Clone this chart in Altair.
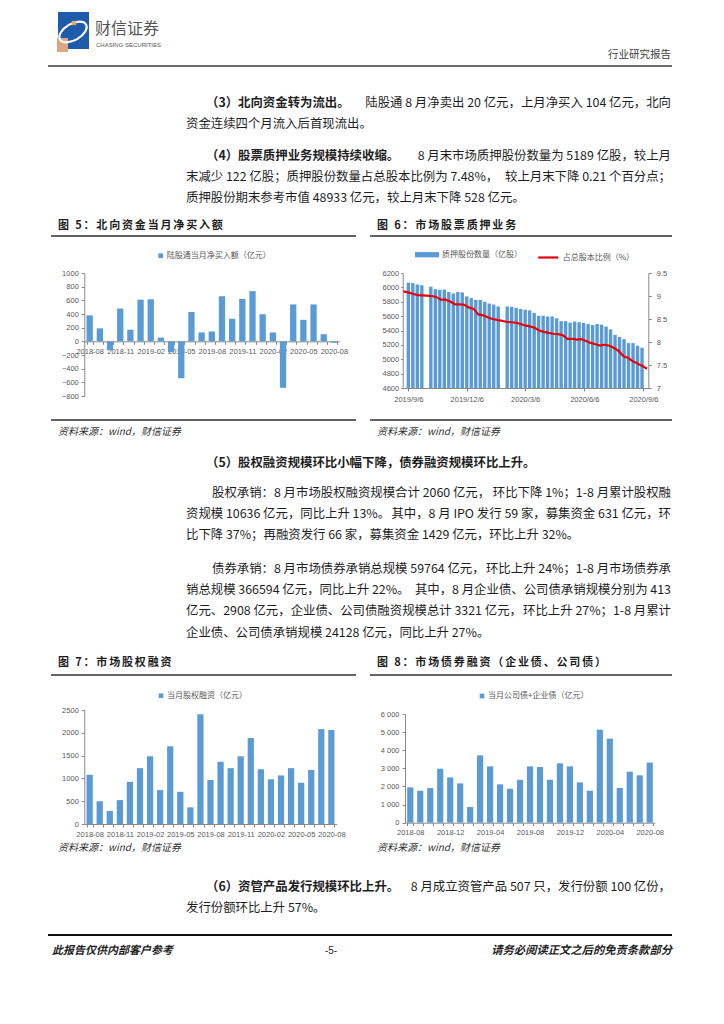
import json
import altair as alt
import pandas as pd

# ---------------- data ----------------
months = ["2018-08", "2018-09", "2018-10", "2018-11", "2018-12",
          "2019-01", "2019-02", "2019-03", "2019-04", "2019-05", "2019-06",
          "2019-07", "2019-08", "2019-09", "2019-10", "2019-11", "2019-12",
          "2020-01", "2020-02", "2020-03", "2020-04", "2020-05", "2020-06",
          "2020-07", "2020-08"]
north_net = [380, 190, -130, 480, 170, 610, 615, 55, -160, -540, 430, 130, 145,
             660, 330, 620, 735, 395, 130, -680, 540, 315, 540, 104, -20]
equity = [1080, 500, 285, 525, 925, 1225, 1485, 745, 1705, 705, 365, 2405, 965,
          1365, 1225, 1485, 1885, 1200, 980, 1065, 1225, 905, 1185, 2081, 2060]
bonds = [1950, 1765, 1910, 2980, 2500, 2170, 865, 3715, 3110, 2115, 1875, 2370,
         3110, 3075, 2370, 3275, 3110, 2225, 1765, 5135, 4640, 1915, 2815, 2615, 3321]

weeks = ["2019-09-06", "2019-09-13", "2019-09-20", "2019-09-27", "2019-10-11",
         "2019-10-18", "2019-10-25", "2019-11-01", "2019-11-08", "2019-11-15",
         "2019-11-22", "2019-11-29", "2019-12-06", "2019-12-13", "2019-12-20",
         "2019-12-27", "2020-01-03", "2020-01-10", "2020-01-17", "2020-01-24",
         "2020-02-07", "2020-02-14", "2020-02-21", "2020-02-28", "2020-03-06",
         "2020-03-13", "2020-03-20", "2020-03-27", "2020-04-03", "2020-04-10",
         "2020-04-17", "2020-04-24", "2020-05-01", "2020-05-08", "2020-05-15",
         "2020-05-22", "2020-05-29", "2020-06-05", "2020-06-12", "2020-06-19",
         "2020-06-26", "2020-07-03", "2020-07-10", "2020-07-17", "2020-07-24",
         "2020-07-31", "2020-08-07", "2020-08-14", "2020-08-21", "2020-08-28",
         "2020-09-04"]
pledged = [6065, 6060, 6040, 6030, 6010, 5975, 5965, 5970, 5935, 5915, 5935, 5930,
           5875, 5850, 5825, 5825, 5800, 5775, 5760, 5735, 5735, 5730, 5715, 5700,
           5690, 5680, 5645, 5605, 5605, 5595, 5595, 5570, 5530, 5530, 5510, 5525,
           5515, 5505, 5490, 5475, 5490, 5480, 5455, 5415, 5340, 5311, 5280, 5225,
           5225, 5189, 5160]
ratio = [9.10, 9.08, 9.05, 9.02, 9.01, 9.00, 8.98, 8.92, 8.92, 8.88, 8.82, 8.82,
         8.81, 8.75, 8.72, 8.60, 8.58, 8.54, 8.50, 8.48, 8.44, 8.43, 8.42, 8.39,
         8.36, 8.34, 8.31, 8.25, 8.22, 8.20, 8.18, 8.17, 8.15, 8.07, 8.07, 8.05,
         8.06, 8.02, 7.98, 7.95, 7.92, 7.94, 7.92, 7.87, 7.80, 7.69, 7.65, 7.58,
         7.53, 7.48, 7.42]

labels_q = ["2018-08", "2018-11", "2019-02", "2019-05", "2019-08", "2019-11",
            "2020-02", "2020-05", "2020-08"]
labels_4m = ["2018-08", "2018-12", "2019-04", "2019-08", "2019-12", "2020-04", "2020-08"]
date_ticks = [(2019, 9, 6), (2019, 12, 6), (2020, 3, 6), (2020, 6, 6), (2020, 9, 6)]
yt5 = list(range(-800, 1001, 200))
yt6l = list(range(4600, 6201, 200))
yt6r = [7, 7.5, 8, 8.5, 9, 9.5]
yt7 = list(range(0, 2501, 500))
yt8 = list(range(0, 6001, 1000))

leg5 = "陆股通当月净买入额（亿元）"
leg6a = "质押股份数量（亿股）"
leg6b = "占总股本比例（%）"
leg7 = "当月股权融资（亿元）"
leg8 = "当月公司债+企业债（亿元）"

# ---------------- style ----------------
CN = "Noto Sans CJK SC"
AXF = "Liberation Sans"
BLUE = "#5B9BD5"
RED = "#E8000B"
GRAY = "#595959"
AXC = "#898989"
TXT = "#1e1e1e"
BODY = 12.4

# ---------------- page canvases ----------------
def xs():
    return alt.X("x:Q", scale=alt.Scale(domain=[8, 716], nice=False, zero=False), axis=None)

def ys(y0, y1):
    return alt.Y("y:Q", scale=alt.Scale(domain=[y0, y1], reverse=True, nice=False, zero=False), axis=None)

def texts(rows, y0, y1, **props):
    df = pd.DataFrame(rows, columns=["x", "y", "t"])
    base = dict(baseline="middle", font=CN, fontSize=BODY, color=TXT, align="left")
    base.update(props)
    return alt.Chart(df).mark_text(**base).encode(x=xs(), y=ys(y0, y1), text="t:N")

def rules(rows, y0, y1, **props):
    df = pd.DataFrame(rows, columns=["x", "x2", "y"])
    base = dict(color="#303030", strokeWidth=1.3)
    base.update(props)
    return alt.Chart(df).mark_rule(**base).encode(x=xs(), x2="x2:Q", y=ys(y0, y1))

def spaced(s):
    return "\u2006".join(list(s))

L, IND, IND2, R = 186, 206, 212, 671
LH = 21.2          # line height inside a paragraph
TS = 11            # figure title size
TX1, TX2 = 58, 377

# Row A: header + paragraphs (3), (4) + figure titles 5/6
A0, A1 = 8, 273
logo_df = pd.DataFrame({"x": [58, 57], "x2": [89, 68], "y": [12, 38], "y2": [49, 52],
                        "c": ["#1E5BAA", "#D9A883"]})
logo = alt.Chart(logo_df).mark_rect().encode(
    x=xs(), x2="x2:Q", y=ys(A0, A1), y2="y2:Q", color=alt.Color("c:N", scale=None, legend=None))
swoosh = alt.Chart(pd.DataFrame({"x": [73], "y": [32]})).mark_point(
    shape="M-1,0 A1,0.55 0 1,1 1,0 A1,0.55 0 1,1 -1,0", size=900, angle=330,
    stroke="white", strokeWidth=2.2, filled=False, opacity=1).encode(x=xs(), y=ys(A0, A1))
star = alt.Chart(pd.DataFrame({"x": [74], "y": [23]})).mark_point(
    shape="cross", size=28, angle=45, filled=True, color="#F2A65A", opacity=1).encode(x=xs(), y=ys(A0, A1))

p3, p4 = 102.5, 156
rowA = alt.layer(
    logo, swoosh, star,
    texts([(95, 29, "财信证券")], A0, A1, fontSize=16, color="#555555"),
    texts([(96, 45, "CHASING SECURITIES")], A0, A1, font=AXF, fontSize=6, color="#555555"),
    texts([(R, 55, "行业研究报告")], A0, A1, fontSize=10.5, color="#404040", align="right"),
    rules([(48, 672, 66)], A0, A1, strokeWidth=1.6, color="#3a3a3a"),
    texts([(IND, p3, "（3）北向资金转为流出。"),
           (IND, p4, "（4）股票质押业务规模持续收缩。")], A0, A1, fontWeight="bold"),
    texts([(R, p3, "陆股通 8 月净卖出 20 亿元，上月净买入 104 亿元，北向"),
           (R, p4, "8 月末市场质押股份数量为 5189 亿股，较上月"),
           (R, p4 + LH, "较上月末下降 0.21 个百分点；")], A0, A1, align="right"),
    texts([(L, p3 + LH, "资金连续四个月流入后首现流出。"),
           (L, p4 + LH, "末减少 122 亿股；质押股份数量占总股本比例为 7.48%，"),
           (L, p4 + 2 * LH, "质押股份期末参考市值 48933 亿元，较上月末下降 528 亿元。")], A0, A1),
    texts([(TX1, 225.7, spaced("图 5：北向资金当月净买入额")),
           (TX2, 225.7, spaced("图 6：市场股票质押业务"))], A0, A1, fontWeight="bold", fontSize=TS),
    rules([(51, 356, 236), (370, 672, 236)], A0, A1),
).properties(width=708, height=A1 - A0)

# Row C: sources 5/6, paragraph (5), figure titles 7/8
C0, C1 = 396, 710
p5, pe, pb = 463, 493, 569
rowC = alt.layer(
    rules([(51, 356, 420), (370, 672, 420)], C0, C1),
    texts([(TX1, 432, "资料来源：wind，财信证券"), (TX2, 432, "资料来源：wind，财信证券")],
          C0, C1, fontSize=10, fontStyle="italic", color="#333333"),
    texts([(IND, p5, "（5）股权融资规模环比小幅下降，债券融资规模环比上升。")], C0, C1, fontWeight="bold"),
    texts([(IND2, pe, "股权承销：8 月市场股权融资规模合计 2060 亿元，"),
           (L, pe + LH, "资规模 10636 亿元，同比上升 13%。"),
           (L, pe + 2 * LH, "比下降 37%；再融资发行 66 家，募集资金 1429 亿元，环比上升 32%。"),
           (IND2, pb, "债券承销：8 月市场债券承销总规模 59764 亿元，"),
           (L, pb + LH, "销总规模 366594 亿元，同比上升 22%。"),
           (L, pb + 2 * LH, "亿元、2908 亿元，企业债、公司债融资规模总计 3321 亿元，"),
           (L, pb + 3 * LH, "企业债、公司债承销规模 24128 亿元，同比上升 27%。")], C0, C1),
    texts([(R, pe, "环比下降 1%；1-8 月累计股权融"),
           (R, pe + LH, "其中，8 月 IPO 发行 59 家，募集资金 631 亿元，环"),
           (R, pb, "环比上升 24%；1-8 月市场债券承"),
           (R, pb + LH, "其中，8 月企业债、公司债承销规模分别为 413"),
           (R, pb + 2 * LH, "环比上升 27%；1-8 月累计")], C0, C1, align="right"),
    texts([(TX1, 663, spaced("图 7：市场股权融资")),
           (TX2, 663, spaced("图 8：市场债券融资（企业债、公司债）"))], C0, C1,
          fontWeight="bold", fontSize=TS),
    rules([(51, 356, 675), (370, 672, 675)], C0, C1),
).properties(width=708, height=C1 - C0)

# Row E: sources 7/8, paragraph (6), footer
E0, E1 = 824, 1016
p6 = 887
rowE = alt.layer(
    texts([(TX1, 848, "资料来源：wind，财信证券"), (TX2, 848, "资料来源：wind，财信证券")],
          E0, E1, fontSize=10, fontStyle="italic", color="#333333"),
    texts([(IND, p6, "（6）资管产品发行规模环比上升。")], E0, E1, fontWeight="bold"),
    texts([(R, p6, "8 月成立资管产品 507 只，发行份额 100 亿份，")], E0, E1, align="right"),
    texts([(L, p6 + LH, "发行份额环比上升 57%。")], E0, E1),
    rules([(48, 672, 935)], E0, E1, strokeWidth=1.8, color="#111111"),
    texts([(52, 951, "此报告仅供内部客户参考")], E0, E1, fontWeight="bold", fontSize=11, fontStyle="italic"),
    texts([(331, 951, "-5-")], E0, E1, fontSize=10, align="center", font=AXF),
    texts([(672, 951, "请务必阅读正文之后的免责条款部分")], E0, E1, fontWeight="bold", fontSize=11.3,
          fontStyle="italic", align="right"),
).properties(width=708, height=E1 - E0)

# ---------------- charts (each pair shares one view; scale ranges place them) ----------------
def label_expr(keep):
    return "indexof(" + json.dumps(keep) + ", datum.value) >= 0 ? datum.value : ''"

AX = dict(labelFont=AXF, labelFontSize=7.5, labelColor=GRAY, domainColor=AXC, tickColor=AXC,
          grid=False, domainWidth=1, tickWidth=1)

def legend(x, y, **kw):
    base = dict(orient="none", legendX=x, legendY=y, title=None, symbolType="square",
                symbolSize=22, symbolStrokeWidth=0, labelFont=CN, labelFontSize=8,
                labelColor=GRAY, padding=0, labelOffset=2)
    base.update(kw)
    return alt.Legend(**base)

def monthly_bar(values, series, keep, yticks, ydom, xr, yr, xoff, yoff, leg_xy, yfmt=None):
    df = pd.DataFrame({"month": months, "v": values, "s": series})
    yaxis = dict(AX, values=yticks, tickSize=3, labelPadding=3, orient="left", offset=yoff)
    if yfmt:
        yaxis["labelExpr"] = yfmt
    else:
        yaxis["format"] = "d"
    return alt.Chart(df).mark_bar().encode(
        x=alt.X("month:O", sort=months, title=None,
                scale=alt.Scale(range=xr, paddingInner=0.38, paddingOuter=0.22),
                axis=alt.Axis(**AX, orient="bottom", labelExpr=label_expr(keep), labelAngle=0,
                              labelOverlap=False, tickBand="extent", tickSize=3, labelPadding=3,
                              offset=xoff)),
        y=alt.Y("v:Q", title=None, scale=alt.Scale(domain=ydom, range=yr, nice=False),
                axis=alt.Axis(**yaxis)),
        color=alt.Color("s:N", scale=alt.Scale(range=[BLUE]), legend=legend(*leg_xy)),
    )

# Row B: page y 273 .. 396 ; local x = page x - 8
B0, B1 = 273, 396
HB = B1 - B0
ch5 = monthly_bar(north_net, leg5, labels_q, yt5, [-800, 1000], [76.3, 331.3], [123, 0],
                  -(HB - 123 * 1000 / 1800), -76.3, (148.7, -21.3))

df6 = pd.DataFrame({"date": [w + "T00:00:00" for w in weeks], "shares": pledged,
                    "ratio": ratio, "s1": leg6a, "s2": leg6b})
dom6 = [alt.DateTime(year=2019, month=9, date=5), alt.DateTime(year=2020, month=9, date=6)]
x6 = alt.X("date:T", title=None, scale=alt.Scale(domain=dom6, range=[394.7, 640.3]),
           axis=alt.Axis(**AX, orient="bottom", offset=-(HB - 115),
                         values=[alt.DateTime(year=a, month=b, date=c) for a, b, c in date_ticks],
                         format="%Y/%-m/%-d", labelAngle=0, labelOverlap=False, tickSize=3,
                         labelPadding=4))
x6b = alt.X("date:T", title=None, scale=alt.Scale(domain=dom6, range=[394.7, 640.3]), axis=None)
bars6 = alt.Chart(df6).mark_bar(size=3.4).encode(
    x=x6,
    y=alt.Y("shares:Q", title=None,
            scale=alt.Scale(domain=[4600, 6200], range=[115, 0], nice=False, zero=False, clamp=True),
            axis=alt.Axis(**AX, orient="left", offset=-394.7, values=yt6l, format="d",
                          tickSize=2, labelPadding=2)),
    color=alt.Color("s1:N", scale=alt.Scale(range=[BLUE]),
                    legend=legend(407, -30.3, symbolType="M-1,-0.22H1V0.22H-1Z",
                                  symbolSize=576, labelOffset=3)),
)
line6 = alt.Chart(df6).mark_line(strokeWidth=2.2).encode(
    x=x6b,
    y=alt.Y("ratio:Q", title=None,
            scale=alt.Scale(domain=[7, 9.5], range=[115, 0], nice=False, zero=False),
            axis=alt.Axis(**AX, orient="right", offset=-(708 - 640.3), values=yt6r, format="~g",
                          tickSize=3, labelPadding=5)),
    color=alt.Color("s2:N", scale=alt.Scale(range=[RED]),
                    legend=legend(528.7, -27, symbolType="stroke", symbolSize=400,
                                  symbolStrokeWidth=2.2, labelOffset=3)),
)
rowB = alt.layer(ch5, bars6, line6).resolve_scale(
    x="independent", y="independent", color="independent").properties(width=708, height=HB)

# Row D: page y 710 .. 824
D0, D1 = 710, 824
HD = D1 - D0
ch7 = monthly_bar(equity, leg7, labels_q, yt7, [0, 2500], [76.3, 328.7], [114, 0],
                  0, -76.3, (149, -18.3))
ch8 = monthly_bar(bonds, leg8, labels_4m, yt8, [0, 6000], [397, 647], [112.7, 4],
                  -(HD - 112.7), -397, (470, -18),
                  yfmt="replace(format(datum.value, ','), ',', ' ')")
rowD = alt.layer(ch7, ch8).resolve_scale(
    x="independent", y="independent", color="independent").properties(width=708, height=HD)

chart = alt.vconcat(rowA, rowB, rowC, rowD, rowE, spacing=0, bounds="flush").properties(
    padding=0, background="white"
).configure_view(strokeWidth=0)

chart.save("out.html", embed_options={"renderer": "svg", "actions": False})
